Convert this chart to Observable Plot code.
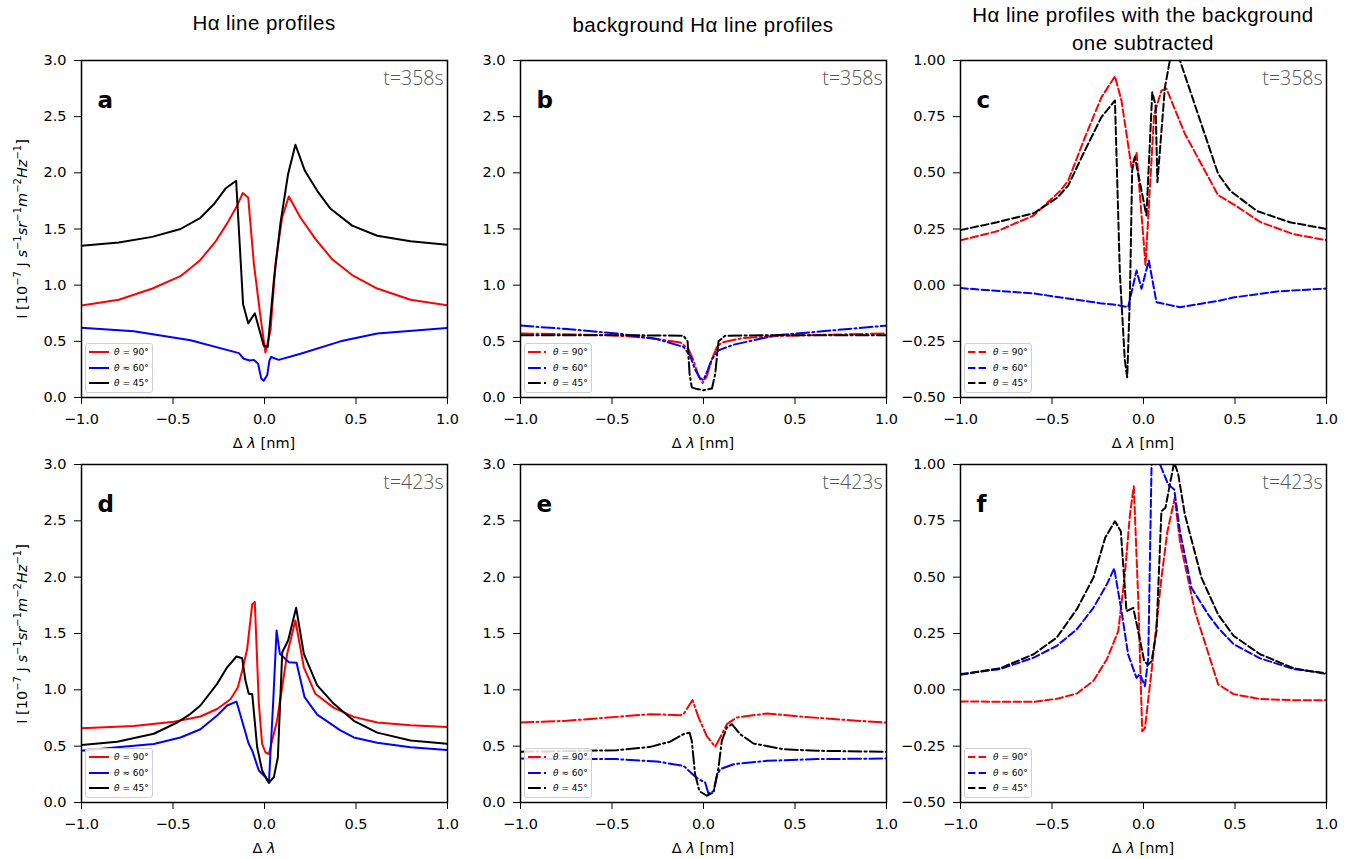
<!DOCTYPE html>
<html><head><meta charset="utf-8">
<script src="https://cdn.jsdelivr.net/npm/d3@7"></script>
<script src="https://cdn.jsdelivr.net/npm/@observablehq/plot@0.6"></script>
<style>
body{margin:0;background:#fff;}
#root{position:relative;width:1362px;height:859px;overflow:hidden;font-family:"DejaVu Sans",sans-serif;color:#000;}
.abs{position:absolute;}
.title{position:absolute;font-family:"Liberation Sans",Arial,sans-serif;font-size:20.5px;letter-spacing:0.45px;text-align:center;transform:translate(-50%,-50%);white-space:nowrap;line-height:28px;}
.xl{position:absolute;font-family:"DejaVu Sans",sans-serif;font-size:14.5px;transform:translate(-50%,-50%);white-space:nowrap;}
.yl{position:absolute;font-family:"DejaVu Sans",sans-serif;font-size:14.5px;transform:translate(-50%,-50%) rotate(-90deg);white-space:nowrap;}
.yl sup{font-size:10px;vertical-align:6px;}
.leg{position:absolute;background:rgba(255,255,255,0.85);border:1.5px solid #d0d0d0;border-radius:3px;box-sizing:border-box;font-size:9px;}
.leg .row{position:absolute;left:3px;height:14px;display:flex;align-items:center;white-space:nowrap;}
.leg svg{display:block;margin-right:5px;}
</style></head><body><div id="root"></div>
<script>
// ---------- data (Δλ [nm], intensity) ----------
const xTicks = [-1, -0.5, 0, 0.5, 1];
const yTicksI = [0, 0.5, 1, 1.5, 2, 2.5, 3];
const yTicksD = [-0.5, -0.25, 0, 0.25, 0.5, 0.75, 1];
const seriesNames = ["θ = 90°", "θ ≈ 60°", "θ = 45°"];
const seriesColors = ["#ff0000", "#0000ff", "#000000"];

// panel a: Hα line profiles, t=358s
const a90 = [[-1,0.82],[-0.796,0.87],[-0.612,0.97],[-0.459,1.08],[-0.353,1.22],[-0.271,1.38],[-0.204,1.55],[-0.149,1.71],[-0.119,1.82],[-0.089,1.78],[-0.058,1.19],[-0.022,0.72],[0.005,0.40],[0.033,0.60],[0.06,1.19],[0.096,1.6],[0.133,1.79],[0.197,1.60],[0.279,1.41],[0.37,1.23],[0.479,1.09],[0.616,0.97],[0.798,0.87],[1,0.82]];
const a60 = [[-1,0.62],[-0.714,0.59],[-0.404,0.51],[-0.14,0.395],[-0.113,0.345],[-0.08,0.33],[-0.058,0.335],[-0.035,0.30],[-0.018,0.17],[-0.004,0.15],[0.015,0.2],[0.027,0.33],[0.036,0.36],[0.078,0.335],[0.197,0.39],[0.415,0.5],[0.616,0.57],[1,0.62]];
const a45 = [[-1,1.35],[-0.796,1.38],[-0.614,1.43],[-0.459,1.5],[-0.35,1.6],[-0.277,1.72],[-0.213,1.86],[-0.155,1.93],[-0.117,0.83],[-0.089,0.66],[-0.053,0.75],[-0.004,0.46],[0.018,0.45],[0.051,1.04],[0.087,1.55],[0.129,1.99],[0.169,2.25],[0.22,2.02],[0.288,1.84],[0.361,1.68],[0.479,1.53],[0.616,1.44],[0.798,1.39],[1,1.36]];

// panel b: background Hα line profiles, t=358s
const b90 = [[-1,0.57],[-0.51,0.555],[-0.29,0.53],[-0.127,0.49],[-0.082,0.43],[-0.055,0.33],[-0.027,0.19],[-0.005,0.13],[0.018,0.19],[0.046,0.34],[0.073,0.45],[0.1,0.49],[0.219,0.53],[0.437,0.55],[1,0.57]];
const b60 = [[-1,0.64],[-0.747,0.61],[-0.474,0.57],[-0.255,0.52],[-0.109,0.45],[-0.073,0.37],[-0.046,0.25],[-0.018,0.17],[0,0.155],[0.022,0.24],[0.046,0.34],[0.082,0.42],[0.164,0.47],[0.4,0.555],[0.619,0.585],[1,0.64]];
const b45 = [[-1,0.555],[-0.474,0.555],[-0.109,0.55],[-0.087,0.5],[-0.076,0.21],[-0.064,0.09],[-0.036,0.075],[0,0.065],[0.046,0.08],[0.064,0.21],[0.082,0.5],[0.118,0.55],[0.437,0.555],[1,0.555]];

// panel c: background subtracted, t=358s
const c90 = [[-1,0.2],[-0.8,0.24],[-0.6,0.31],[-0.455,0.42],[-0.411,0.466],[-0.32,0.658],[-0.23,0.836],[-0.156,0.93],[-0.12,0.82],[-0.093,0.674],[-0.066,0.525],[-0.038,0.59],[0.011,0.09],[0.058,0.76],[0.098,0.866],[0.126,0.874],[0.226,0.674],[0.408,0.4],[0.492,0.36],[0.64,0.28],[0.82,0.227],[1,0.2]];
const c60 = [[-1,-0.013],[-0.6,-0.037],[-0.364,-0.065],[-0.237,-0.08],[-0.146,-0.088],[-0.084,-0.098],[-0.038,0.065],[-0.011,-0.016],[0.029,0.11],[0.071,-0.076],[0.199,-0.098],[0.408,-0.07],[0.49,-0.055],[0.73,-0.028],[1,-0.015]];
const c45 = [[-1,0.245],[-0.8,0.28],[-0.6,0.32],[-0.47,0.39],[-0.411,0.444],[-0.32,0.6],[-0.23,0.748],[-0.156,0.822],[-0.129,0.05],[-0.102,-0.335],[-0.089,-0.41],[-0.074,-0.04],[-0.062,0.51],[-0.047,0.57],[0.016,0.31],[0.048,0.859],[0.066,0.8],[0.076,0.458],[0.117,0.88],[0.144,1.0],[0.172,1.06],[0.199,1.0],[0.408,0.495],[0.474,0.42],[0.62,0.33],[0.8,0.28],[1,0.25]];

// panel d: Hα line profiles, t=423s
const d90 = [[-1,0.66],[-0.714,0.68],[-0.495,0.716],[-0.35,0.763],[-0.259,0.83],[-0.186,0.917],[-0.146,1.02],[-0.122,1.17],[-0.095,1.36],[-0.067,1.76],[-0.053,1.78],[-0.031,0.88],[-0.013,0.52],[0.005,0.446],[0.024,0.43],[0.069,0.73],[0.124,1.32],[0.169,1.615],[0.215,1.2],[0.278,0.965],[0.379,0.84],[0.488,0.76],[0.616,0.71],[0.798,0.686],[1,0.67]];
const d60 = [[-1,0.46],[-0.805,0.49],[-0.605,0.52],[-0.459,0.577],[-0.35,0.65],[-0.259,0.772],[-0.204,0.861],[-0.153,0.896],[-0.086,0.52],[-0.067,0.46],[-0.031,0.284],[0.005,0.225],[0.024,0.175],[0.047,0.876],[0.066,1.527],[0.084,1.32],[0.133,1.245],[0.175,1.24],[0.219,0.935],[0.288,0.78],[0.415,0.64],[0.488,0.577],[0.616,0.53],[0.798,0.49],[1,0.465]];
const d45 = [[-1,0.51],[-0.805,0.54],[-0.605,0.61],[-0.477,0.71],[-0.404,0.787],[-0.35,0.861],[-0.259,1.053],[-0.204,1.2],[-0.153,1.296],[-0.122,1.28],[-0.104,1.083],[-0.086,0.965],[-0.067,0.96],[-0.04,0.49],[-0.013,0.284],[0.024,0.175],[0.051,0.225],[0.073,0.4],[0.097,1.334],[0.129,1.438],[0.173,1.728],[0.215,1.32],[0.288,1.04],[0.379,0.876],[0.488,0.725],[0.616,0.62],[0.798,0.55],[1,0.52]];

// panel e: background Hα line profiles, t=423s
const e90 = [[-1,0.71],[-0.747,0.725],[-0.474,0.76],[-0.29,0.784],[-0.127,0.775],[-0.109,0.784],[-0.06,0.91],[-0.027,0.755],[0.018,0.59],[0.064,0.494],[0.091,0.577],[0.128,0.695],[0.182,0.755],[0.346,0.79],[0.528,0.763],[0.8,0.73],[1,0.71]];
const e60 = [[-1,0.39],[-0.474,0.385],[-0.255,0.364],[-0.109,0.325],[-0.055,0.245],[-0.027,0.207],[0.009,0.178],[0.027,0.08],[0.055,0.1],[0.073,0.237],[0.091,0.296],[0.164,0.34],[0.346,0.37],[0.62,0.385],[1,0.39]];
const e45 = [[-1,0.45],[-0.474,0.464],[-0.29,0.494],[-0.182,0.54],[-0.109,0.607],[-0.076,0.62],[-0.064,0.547],[-0.046,0.25],[-0.022,0.1],[0.018,0.06],[0.055,0.09],[0.082,0.31],[0.1,0.547],[0.128,0.666],[0.155,0.695],[0.2,0.607],[0.273,0.524],[0.437,0.473],[0.62,0.459],[1,0.45]];

// panel f: background subtracted, t=423s
const f90 = [[-1,-0.052],[-0.6,-0.053],[-0.474,-0.04],[-0.364,-0.016],[-0.273,0.04],[-0.2,0.136],[-0.138,0.26],[-0.102,0.512],[-0.074,0.778],[-0.053,0.904],[-0.029,0.408],[-0.007,-0.184],[0.008,-0.17],[0.044,0.083],[0.098,0.497],[0.131,0.704],[0.171,0.852],[0.199,0.66],[0.281,0.349],[0.408,0.024],[0.492,-0.019],[0.637,-0.041],[0.82,-0.046],[1,-0.046]];
const f60 = [[-1,0.07],[-0.783,0.092],[-0.6,0.143],[-0.474,0.195],[-0.364,0.269],[-0.273,0.365],[-0.2,0.469],[-0.16,0.539],[-0.12,0.349],[-0.084,0.157],[-0.038,0.053],[-0.02,0.07],[0.008,0.016],[0.026,0.142],[0.044,1.0],[0.07,1.04],[0.098,0.985],[0.135,0.911],[0.168,0.889],[0.199,0.704],[0.262,0.453],[0.354,0.334],[0.408,0.275],[0.492,0.203],[0.637,0.14],[0.82,0.092],[1,0.074]];
const f45 = [[-1,0.067],[-0.783,0.096],[-0.6,0.158],[-0.474,0.232],[-0.364,0.358],[-0.273,0.499],[-0.209,0.676],[-0.156,0.748],[-0.124,0.704],[-0.093,0.349],[-0.056,0.364],[-0.029,0.26],[0.004,0.127],[0.025,0.112],[0.044,0.127],[0.071,0.26],[0.098,0.793],[0.12,0.808],[0.144,0.911],[0.168,1.01],[0.19,0.956],[0.226,0.778],[0.317,0.497],[0.408,0.334],[0.492,0.24],[0.637,0.158],[0.82,0.096],[1,0.07]];

const columnTitles = ["Hα line profiles", "background Hα line profiles", "Hα line profiles with the background<br>one subtracted"];

// ---------- layout ----------
const W = 366;
const colLeft = [81, 520, 960];
const rowTop = [60, 464];
const rowH = [337, 338];
const ML = 80, MR = 10, MT = 10, MB = 40;
const DASH = {solid: null, dashdot: "12.8,3.2,2,3.2", dashed: "7.4,3.2"};

const panels = [
  {key:"a", data:[a90,a60,a45], col:0, row:0, dash:"solid",   y:[0,3],     yt:yTicksI, dec:1, time:"t=358s", xlab:"Δ <i>λ</i> [nm]"},
  {key:"b", data:[b90,b60,b45], col:1, row:0, dash:"dashdot", y:[0,3],     yt:yTicksI, dec:1, time:"t=358s", xlab:"Δ <i>λ</i> [nm]"},
  {key:"c", data:[c90,c60,c45], col:2, row:0, dash:"dashed",  y:[-0.5,1],  yt:yTicksD, dec:2, time:"t=358s", xlab:"Δ <i>λ</i> [nm]"},
  {key:"d", data:[d90,d60,d45], col:0, row:1, dash:"solid",   y:[0,3],     yt:yTicksI, dec:1, time:"t=423s", xlab:"Δ <i>λ</i>"},
  {key:"e", data:[e90,e60,e45], col:1, row:1, dash:"dashdot", y:[0,3],     yt:yTicksI, dec:1, time:"t=423s", xlab:"Δ <i>λ</i> [nm]"},
  {key:"f", data:[f90,f60,f45], col:2, row:1, dash:"dashed",  y:[-0.5,1],  yt:yTicksD, dec:2, time:"t=423s", xlab:"Δ <i>λ</i> [nm]"}
];

const root = document.getElementById("root");
const fmt = dec => d => { const s = Math.abs(d).toFixed(dec); return (d < 0 ? "\u2212" : "") + s; };

function addDiv(cls, html, left, top) {
  const el = document.createElement("div");
  el.className = cls; el.innerHTML = html;
  el.style.left = left + "px"; el.style.top = top + "px";
  root.appendChild(el); return el;
}

for (const p of panels) {
  const H = rowH[p.row];
  const pl = colLeft[p.col], pt = rowTop[p.row];
  const rows = p.data.flatMap((arr, i) => arr.map(([x, y]) => ({x, y, s: seriesNames[i]})));
  const dash = DASH[p.dash];
  const chart = Plot.plot({
    width: ML + W + MR, height: MT + H + MB,
    marginLeft: ML, marginRight: MR, marginTop: MT, marginBottom: MB,
    style: {background: "transparent", overflow: "visible", fontFamily: "DejaVu Sans", fontSize: "14.5px", color: "black"},
    x: {domain: [-1, 1], ticks: xTicks, tickFormat: fmt(1), tickSize: 7, tickPadding: 9, label: null},
    y: {domain: p.y, ticks: p.yt, tickFormat: fmt(p.dec), tickSize: 7, tickPadding: 8, label: null},
    color: {domain: seriesNames, range: seriesColors},
    marks: [
      Plot.line(rows, {x: "x", y: "y", z: "s", stroke: "s", strokeWidth: 2, strokeDasharray: dash, strokeLinejoin: "round", clip: true}),
      Plot.frame({stroke: "black", strokeWidth: 1.5}),
      Plot.text([p.key], {text: d => d, frameAnchor: "top-left", textAnchor: "start", lineAnchor: "middle", dx: 16, dy: 40, fontSize: 23, fontWeight: "bold", fontFamily: "DejaVu Sans"}),
      Plot.text([p.time], {text: d => d, frameAnchor: "top-right", textAnchor: "end", lineAnchor: "middle", dx: -4, dy: 18, fontSize: 19.5, fontWeight: 300, fontFamily: "Open Sans", fill: "#555"})
    ]
  });
  chart.style.position = "absolute";
  chart.style.left = (pl - ML) + "px";
  chart.style.top = (pt - MT) + "px";
  root.appendChild(chart);

  // x label
  addDiv("xl", p.xlab, pl + W / 2, pt + H + 46);

  // legend
  const leg = addDiv("leg", "", pl + 4, pt + H - 54);
  leg.style.width = "68px"; leg.style.height = "50px";
  seriesNames.forEach((name, i) => {
    const r = document.createElement("div");
    r.className = "row";
    r.style.top = (1 + i * 15.5) + "px";
    r.innerHTML = `<svg width="20" height="6"><line x1="0" x2="20" y1="3" y2="3" stroke="${seriesColors[i]}" stroke-width="2" ${dash ? `stroke-dasharray="${dash}"` : ""}/></svg><span><i>θ</i>${name.slice(1)}</span>`;
    leg.appendChild(r);
  });
}

// column titles
addDiv("title", columnTitles[0], colLeft[0] + W / 2, 23);
addDiv("title", columnTitles[1], colLeft[1] + W / 2, 25);
addDiv("title", columnTitles[2], colLeft[2] + W / 2, 29);

// y labels
const ylab = "I [10<sup>−7</sup> J <i>s</i><sup>−1</sup><i>sr</i><sup>−1</sup><i>m</i><sup>−2</sup><i>Hz</i><sup>−1</sup>]";
addDiv("yl", ylab, 21, 229);
addDiv("yl", ylab, 21, 634);
</script></body></html>
